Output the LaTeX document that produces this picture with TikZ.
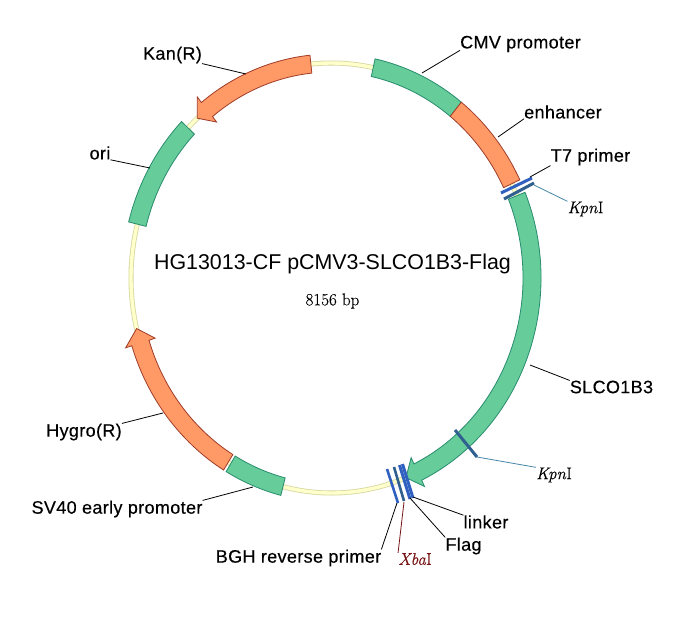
\documentclass[tikz,border=0pt]{standalone}
\usepackage{fontspec}
\setmainfont[FakeBold=0.3]{Latin Modern Roman}
\newfontfamily\labelfont[LetterSpace=2,FakeBold=0.35]{Liberation Sans}
\newfontfamily\titlefont{Liberation Sans}
\usepackage{tikz}
\usetikzlibrary{calc}
\definecolor{BandGreen}{RGB}{102, 204, 153}
\definecolor{EdgeGreen}{RGB}{40, 140, 110}
\definecolor{BandOrange}{RGB}{255, 153, 102}
\definecolor{EdgeOrange}{RGB}{160, 60, 40}
\definecolor{RingFill}{RGB}{255, 255, 204}
\definecolor{RingEdge}{RGB}{215, 215, 160}
\definecolor{SiteBlue}{RGB}{48, 96, 144}
\definecolor{LeadBlue}{RGB}{70, 135, 170}
\definecolor{PrimerBlue}{RGB}{48, 96, 192}
\definecolor{XbaRed}{RGB}{120, 20, 20}
\tikzset{
  greenband/.style={fill=BandGreen, draw=EdgeGreen, line width=0.8pt},
  orangeband/.style={fill=BandOrange, draw=EdgeOrange, line width=0.8pt},
  leader/.style={draw=black, line width=0.8pt},
  genelabel/.style={inner sep=0pt, font=\labelfont\fontsize{18}{20}\selectfont},
  sitelabel/.style={inner sep=0pt, font=\fontsize{17}{20}\selectfont},
}
% plain band between two angles
\newcommand{\bandarc}[3]{
  \path[#3] (#1:209.5 and 224) arc[start angle=#1, end angle=#2, x radius=209.5pt, y radius=224pt]
    -- (#2:191.5 and 206) arc[start angle=#2, end angle=#1, x radius=191.5pt, y radius=206pt] -- cycle;
}
% band with a head: start, neck, tip
\newcommand{\headarc}[4]{
  \path[#4] (#1:209.5 and 224) arc[start angle=#1, end angle=#2, x radius=209.5pt, y radius=224pt]
    -- (#2:216 and 231) -- (#3:200.5 and 215) -- (#2:185 and 199) -- (#2:191.5 and 206)
    arc[start angle=#2, end angle=#1, x radius=191.5pt, y radius=206pt] -- cycle;
}
\begin{document}
\begin{tikzpicture}[x=1pt, y=1pt]
    % Page, origin in the middle of the ring
    \useasboundingbox (-331.5,-341) rectangle (361.5,278);
    \fill[white] (-331.5,-341) rectangle (361.5,278);

    % Backbone
    \draw[RingEdge, line width=5pt] (0,0) ellipse [x radius=200.5, y radius=215];
    \draw[RingFill, line width=3.4pt] (0,0) ellipse [x radius=200.5, y radius=215];

    % Features
    \bandarc{78}{51.7}{greenband}
    \bandarc{51.7}{26}{orangeband}
    \headarc{22.5}{-64.5}{-68.2}{greenband}
    \headarc{95.9}{128.4}{132}{orangeband}
    \bandarc{135.7}{165.5}{greenband}
    \headarc{239}{197.6}{193.6}{orangeband}
    \bandarc{239.8}{256}{greenband}

    % Sites
    \coordinate (t7a) at (169.5,85);
    \coordinate (t7b) at (200.5,100);
    \coordinate (kpnAa) at (172.5,79);
    \coordinate (kpnAb) at (202.5,95);
    \coordinate (kpnBa) at (123.5,-152);
    \coordinate (kpnBb) at (145.5,-179);
    \coordinate (bgha) at (55.5,-191);
    \coordinate (bghb) at (66.5,-225);
    \coordinate (xbaa) at (62.5,-189);
    \coordinate (xbab) at (72.5,-223);
    \coordinate (flaga) at (68,-187);
    \coordinate (flagb) at (78.5,-221);
    \coordinate (linkera) at (71,-186);
    \coordinate (linkerb) at (81.5,-220);
    \draw[PrimerBlue, line width=3pt] (t7a) -- (t7b);
    \draw[SiteBlue, line width=3pt] (kpnAa) -- (kpnAb);
    \draw[SiteBlue, line width=3pt] (kpnBa) -- (kpnBb);
    \draw[PrimerBlue, line width=2.6pt] (bgha) -- (bghb);
    \draw[SiteBlue, line width=2.6pt] (xbaa) -- (xbab);
    \draw[PrimerBlue, line width=3pt] (flaga) -- (flagb);
    \draw[PrimerBlue, line width=3pt] (linkera) -- (linkerb);

    % Labels
    \node[genelabel] (cmv) at (189,234) {CMV promoter};
    \node[genelabel] (enh) at (231.5,166) {enhancer};
    \node[genelabel] (tseven) at (259,121) {T7 primer};
    \node[sitelabel] (kpnA) at (254,69) {\textit{Kpn}I};
    \node[genelabel] (slco) at (280,-109) {SLCO1B3};
    \node[sitelabel] (kpnB) at (222.5,-197) {\textit{Kpn}I};
    \node[genelabel] (linker) at (154.5,-244) {linker};
    \node[genelabel] (flag) at (132,-268) {Flag};
    \node[genelabel] (bgh) at (-33,-280) {BGH reverse primer};
    \node[sitelabel, text=XbaRed] (xba) at (83.5,-281) {\textit{Xba}I};
    \node[genelabel] (sv) at (-214.5,-231) {SV40 early promoter};
    \node[genelabel] (hygro) at (-247.5,-154) {Hygro(R)};
    \node[genelabel] (ori) at (-231.5,125) {ori};
    \node[genelabel] (kan) at (-159,223) {Kan(R)};
    \node[inner sep=0pt, font=\titlefont\fontsize{21.4}{24}\selectfont] (title) at (1,14.5) {HG13013-CF pCMV3-SLCO1B3-Flag};
    \node[inner sep=0pt, font=\fontsize{17}{20}\selectfont] (size) at (1,-23) {8156 bp};

    % Leaders
    \coordinate (cmvend) at (90.5,205);
    \coordinate (enhend) at (166.5,141);
    \coordinate (tsevenend) at (198.5,101);
    \coordinate (kpnAend) at (202.5,93);
    \coordinate (slcoend) at (198.5,-87);
    \coordinate (kpnBend) at (145.5,-179);
    \coordinate (linkerend) at (81.5,-219);
    \coordinate (flagend) at (78.5,-220);
    \coordinate (bghend) at (65.5,-225);
    \coordinate (xbaend) at (72.5,-224);
    \coordinate (svend) at (-78.5,-209);
    \coordinate (hygroend) at (-168.5,-135);
    \coordinate (oriend) at (-181.5,110);
    \coordinate (kanend) at (-85.5,204);
    \draw[leader] (cmv.south west) ++(0,2) -- (cmvend);
    \draw[leader] (enh.south west) -- (enhend);
    \draw[leader] (tseven.south west) -- (tsevenend);
    \draw[LeadBlue, line width=0.8pt] (kpnA.north west) -- (kpnAend);
    \draw[leader] (slco.north west) -- (slcoend);
    \draw[LeadBlue, line width=0.8pt] (kpnB.north west) -- (kpnBend);
    \draw[leader] (linker.north west) -- (linkerend);
    \draw[leader] (flag.north west) -- (flagend);
    \draw[leader] (bgh.north east) -- (bghend);
    \draw[XbaRed, line width=0.8pt] (xba.north west) -- (xbaend);
    \draw[leader] (sv.north east) -- (svend);
    \draw[leader] (hygro.north east) -- (hygroend);
    \draw[leader] (ori.south east) -- (oriend);
    \draw[leader] (kan.south east) -- (kanend);
\end{tikzpicture}
\end{document}
